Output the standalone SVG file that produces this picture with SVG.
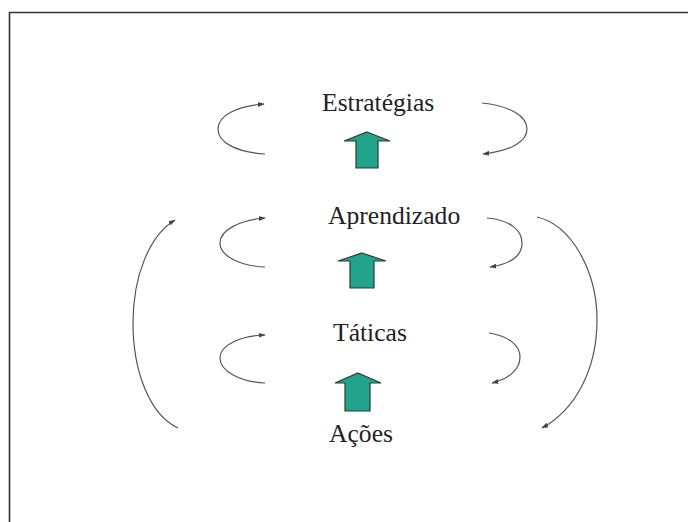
<svg xmlns="http://www.w3.org/2000/svg" width="688" height="522" viewBox="0 0 688 522">
<style>
.lbl{font-family:"Liberation Serif","Times New Roman",serif;font-size:25.6px;fill:#222}
.up{fill:#22a38c;stroke:#2a3a36;stroke-width:1.2;stroke-linejoin:miter}
.cv{fill:none;stroke:#555;stroke-width:1.2}
.frame{fill:none;stroke:#333;stroke-width:1.6}
</style>
<defs>
<marker id="ah" viewBox="0 0 10 10" refX="9" refY="5" markerWidth="7" markerHeight="7" markerUnits="userSpaceOnUse" orient="auto">
<path d="M0,1.5 L10,5 L0,8.5 Z" fill="#444"/>
</marker>
</defs>
<rect width="688" height="522" fill="#fff"/>
<path class="frame" d="M9.5,522 V12.5 H688"/>
<g id="estrategias"><text class="lbl" x="322" y="111">Estratégias</text></g>
<g id="aprendizado"><text class="lbl" x="328" y="224">Aprendizado</text></g>
<g id="taticas"><text class="lbl" x="333" y="341">Táticas</text></g>
<g id="acoes"><text class="lbl" x="329" y="442">Ações</text></g>
<g id="arrow1"><path class="up" d="M367,132 L390,141 L378,141 L378,168 L356,168 L356,141 L344,141 Z"/></g>
<g id="arrow2"><path class="up" d="M362,253 L386,261 L374,261 L374,288 L350,288 L350,261 L338,261 Z"/></g>
<g id="arrow3"><path class="up" d="M358,373 L381,383 L370,383 L370,411 L345,411 L345,383 L335,383 Z"/></g>
<g id="connectors">
<path class="cv" marker-end="url(#ah)" d="M265,154 C235,152 218,142 218,129 C218,115 238,106 264,104"/>
<path class="cv" marker-end="url(#ah)" d="M482,103 C510,106 527,116 527,129 C527,142 510,151 483,154"/>
<path class="cv" marker-end="url(#ah)" d="M265,267 C240,266 220,256 220,243 C220,230 240,220 265,218"/>
<path class="cv" marker-end="url(#ah)" d="M487,218 C510,220 522,230 522,243 C522,256 510,264 490,267"/>
<path class="cv" marker-end="url(#ah)" d="M265,383 C240,382 220,371 220,358 C220,345 240,336 265,335"/>
<path class="cv" marker-end="url(#ah)" d="M489,333 C508,336 520,345 520,357 C520,370 508,379 492,383"/>
<path class="cv" marker-end="url(#ah)" d="M178,428 C150,415 133,372 133,323 C133,275 150,235 175,220"/>
<path class="cv" marker-end="url(#ah)" d="M537,217 C572,225 597,272 597,320 C597,370 575,410 542,428"/>
</g>
</svg>
